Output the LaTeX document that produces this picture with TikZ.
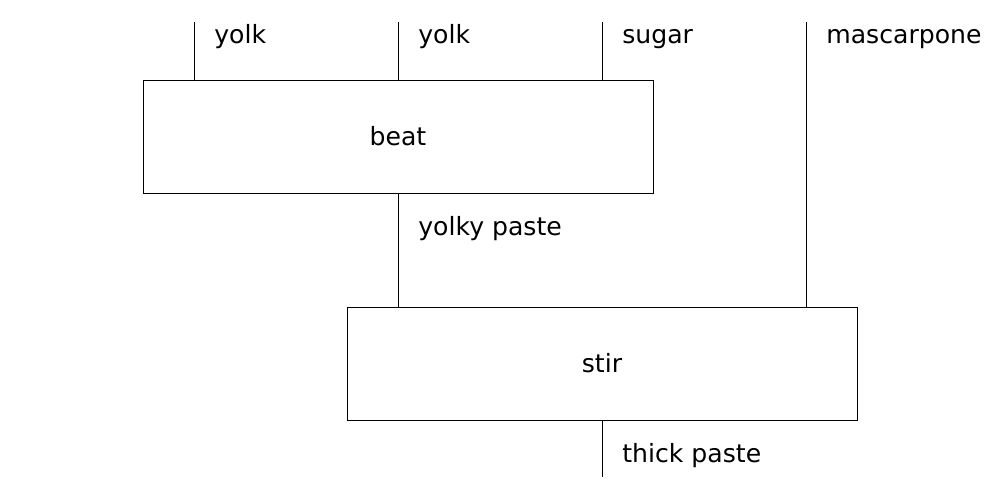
\documentclass[tikz,border=0pt]{standalone}
\usepackage{fontspec}
\setmainfont{DejaVu Sans}
\usetikzlibrary{positioning}
\begin{document}
\begin{tikzpicture}[
      stepbox/.style={
         rectangle,
         draw=black,
         line width=0.5pt,
         inner sep=0pt,
         minimum width=10.2cm,
         minimum height=2.26cm,
         font=\fontsize{14.3}{17}\selectfont},
      wirelabel/.style={
         anchor=base west,
         inner sep=0pt,
         font=\fontsize{14.3}{17}\selectfont},
      mywire/.style={line width=0.5pt}
      ]
      \useasboundingbox (0,0) rectangle (20,10);
      \node[stepbox] (beat) at (7.96,7.27) {beat};
      \node[stepbox] (stir) at (12.04,2.73) {stir};

    \foreach \i/\x/\txt/\to in {% input/x position/text/box it enters
      yolkA/3.88/yolk/beat,
      yolkB/7.96/yolk/beat,
      sugar/12.04/sugar/beat,
      mascarpone/16.12/mascarpone/stir}
     {
      \coordinate (\i) at (\x,9.56);
      \draw [mywire] (\i) -- (\i |- \to.north);
      \node[wirelabel] (\i-lbl) at ([xshift=0.4cm,yshift=-0.43cm]\i) {\txt};
     }

     % wires between and out of the boxes
     \coordinate (out) at (12.04,0.46);
     \draw [mywire] (beat.south) -- (beat.south |- stir.north);
     \node[wirelabel] (paste-lbl) at ([xshift=0.4cm,yshift=-0.85cm]beat.south) {yolky paste};
     \draw [mywire] (stir.south) -- (out);
     \node[wirelabel] (out-lbl) at ([xshift=0.4cm,yshift=-0.85cm]stir.south) {thick paste};
    \end{tikzpicture}
\end{document}
